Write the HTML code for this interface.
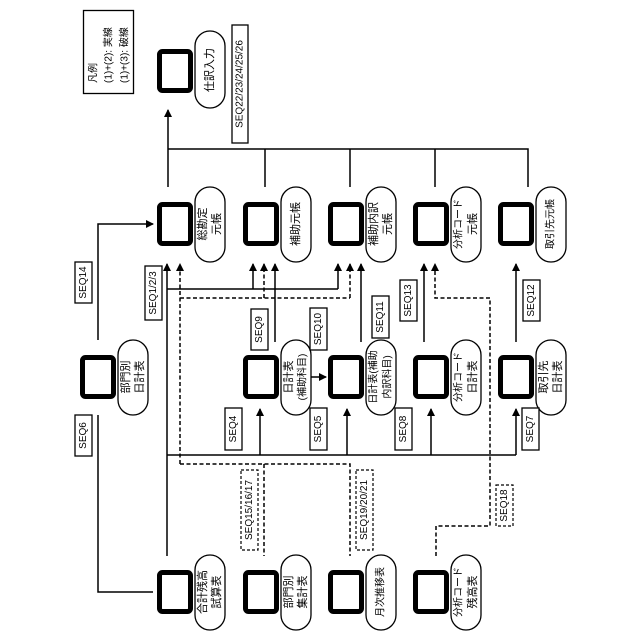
<!DOCTYPE html>
<html><head><meta charset="utf-8"><style>
html,body{margin:0;padding:0;background:#fff}
svg{display:block}
text{font-family:"Liberation Sans","Noto Sans CJK JP",sans-serif;fill:#000}
.n{font-size:11px}
.n .t{font-size:10px}
.s{font-size:10px}
</style></head><body>
<svg width="640" height="640" viewBox="0 0 640 640" xmlns="http://www.w3.org/2000/svg">
<defs>
<marker id="a" markerWidth="8" markerHeight="8" refX="7" refY="4" orient="auto" markerUnits="userSpaceOnUse"><path d="M0,0 L8,4 L0,8 z" fill="#000"/></marker>
</defs>
<g fill="none" stroke="#000" stroke-width="5">
<rect x="159.5" y="51.5" width="31" height="39" rx="3"/>
<rect x="159.5" y="204.5" width="31" height="39" rx="3"/>
<rect x="245.5" y="204.5" width="31" height="39" rx="3"/>
<rect x="330.5" y="204.5" width="31" height="39" rx="3"/>
<rect x="415.5" y="204.5" width="31" height="39" rx="3"/>
<rect x="500.5" y="204.5" width="31" height="39" rx="3"/>
<rect x="82.5" y="357.5" width="31" height="39" rx="3"/>
<rect x="245.5" y="357.5" width="31" height="39" rx="3"/>
<rect x="330.5" y="357.5" width="31" height="39" rx="3"/>
<rect x="415.5" y="357.5" width="31" height="39" rx="3"/>
<rect x="500.5" y="357.5" width="31" height="39" rx="3"/>
<rect x="159.5" y="572.5" width="31" height="39" rx="3"/>
<rect x="245.5" y="572.5" width="31" height="39" rx="3"/>
<rect x="330.5" y="572.5" width="31" height="39" rx="3"/>
<rect x="415.5" y="572.5" width="31" height="39" rx="3"/>
</g>
<g fill="#fff" stroke="#000" stroke-width="1.3">
<rect x="195" y="31" width="30" height="77" rx="15"/>
<rect x="195" y="187" width="30" height="75" rx="15"/>
<rect x="281" y="187" width="30" height="75" rx="15"/>
<rect x="366" y="187" width="30" height="75" rx="15"/>
<rect x="451" y="187" width="30" height="75" rx="15"/>
<rect x="536" y="187" width="30" height="75" rx="15"/>
<rect x="118" y="340" width="30" height="75" rx="15"/>
<rect x="281" y="340" width="30" height="75" rx="15"/>
<rect x="366" y="340" width="30" height="75" rx="15"/>
<rect x="451" y="340" width="30" height="75" rx="15"/>
<rect x="536" y="340" width="30" height="75" rx="15"/>
<rect x="195" y="555" width="30" height="75" rx="15"/>
<rect x="281" y="555" width="30" height="75" rx="15"/>
<rect x="366" y="555" width="30" height="75" rx="15"/>
<rect x="451" y="555" width="30" height="75" rx="15"/>
</g>
<g class="n" text-anchor="middle" dominant-baseline="central">
<text transform="translate(210,70) rotate(-90)">仕訳入力</text>
<text transform="translate(203,224) rotate(-90)">総勘定</text>
<text transform="translate(217,224) rotate(-90)">元帳</text>
<text transform="translate(296,224) rotate(-90)">補助元帳</text>
<text transform="translate(374,224) rotate(-90)">補助内訳</text>
<text transform="translate(388,224) rotate(-90)">元帳</text>
<text class="t" transform="translate(459,224) rotate(-90)">分析コード</text>
<text transform="translate(473,224) rotate(-90)">元帳</text>
<text class="t" transform="translate(551,224) rotate(-90)">取引先元帳</text>
<text transform="translate(126,377) rotate(-90)">部門別</text>
<text transform="translate(140,377) rotate(-90)">日計表</text>
<text transform="translate(289,377) rotate(-90)">日計表</text>
<text class="t" transform="translate(303,377) rotate(-90)">(補助科目)</text>
<text class="t" transform="translate(374,377) rotate(-90)">日計表(補助</text>
<text class="t" transform="translate(388,377) rotate(-90)">内訳科目)</text>
<text class="t" transform="translate(459,377) rotate(-90)">分析コード</text>
<text transform="translate(473,377) rotate(-90)">日計表</text>
<text transform="translate(544,377) rotate(-90)">取引先</text>
<text transform="translate(558,377) rotate(-90)">日計表</text>
<text transform="translate(203,592) rotate(-90)">合計残高</text>
<text transform="translate(217,592) rotate(-90)">試算表</text>
<text transform="translate(289,592) rotate(-90)">部門別</text>
<text transform="translate(303,592) rotate(-90)">集計表</text>
<text class="t" transform="translate(381,592) rotate(-90)">月次推移表</text>
<text class="t" transform="translate(459,592) rotate(-90)">分析コード</text>
<text transform="translate(473,592) rotate(-90)">残高表</text>
</g>
<!-- legend -->
<rect x="83.5" y="10.5" width="50" height="83" fill="none" stroke="#000" stroke-width="1.3"/>
<g class="s" text-anchor="start" dominant-baseline="central">
<text transform="translate(94,83) rotate(-90)">凡例</text>
<text transform="translate(109,83) rotate(-90)">(1)+(2): 実線</text>
<text transform="translate(125,83) rotate(-90)">(1)+(3): 破線</text>
</g>
<!-- solid lines -->
<g fill="none" stroke="#000" stroke-width="1.5">
<path d="M168,187 V110" marker-end="url(#a)"/>
<path d="M168,149 H528 V187 M265,149 V187 M350,149 V187 M435,149 V187"/>
<path d="M98,340 V224 H153" marker-end="url(#a)"/>
<path d="M153,592 H98 V415"/>
<path d="M167,556 V264" marker-end="url(#a)"/>
<path d="M167,289 H338 M253,289 V264" marker-end="url(#a)"/>
<path d="M338,289 V264" marker-end="url(#a)"/>
<path d="M167,455 H516"/>
<path d="M260,455 V409" marker-end="url(#a)"/>
<path d="M347,455 V409" marker-end="url(#a)"/>
<path d="M431,455 V409" marker-end="url(#a)"/>
<path d="M516,455 V409" marker-end="url(#a)"/>
<path d="M275,342 V264" marker-end="url(#a)"/>
<path d="M361,342 V264" marker-end="url(#a)"/>
<path d="M424,342 V264" marker-end="url(#a)"/>
<path d="M516,342 V264" marker-end="url(#a)"/>
<path d="M311,377 H326" marker-end="url(#a)"/>
</g>
<!-- dashed lines -->
<g fill="none" stroke="#000" stroke-width="1.5" stroke-dasharray="4,2.5">
<path d="M180,464 V264" marker-end="url(#a)"/>
<path d="M180,298 H350 M264,298 V264" marker-end="url(#a)"/>
<path d="M350,298 V264" marker-end="url(#a)"/>
<path d="M180,464 H350 V556 M264,464 V556"/>
<path d="M436,556 V526 H490 V298 H435 V264" marker-end="url(#a)"/>
</g>
<!-- SEQ labels -->
<g fill="#fff" stroke="#000" stroke-width="1.3">
<rect x="232" y="25" width="16" height="118"/>
<rect x="75" y="262" width="17" height="41"/>
<rect x="145" y="266" width="17" height="54"/>
<rect x="75" y="415" width="17" height="41"/>
<rect x="225" y="408" width="17" height="42"/>
<rect x="310" y="408" width="17" height="42"/>
<rect x="395" y="408" width="17" height="42"/>
<rect x="522" y="408" width="17" height="42"/>
<rect x="251" y="309" width="17" height="41"/>
<rect x="310" y="308" width="17" height="42"/>
<rect x="372" y="296" width="17" height="42"/>
<rect x="400" y="280" width="17" height="41"/>
<rect x="523" y="280" width="17" height="41"/>
</g>
<g fill="#fff" stroke="#000" stroke-width="1.2" stroke-dasharray="3,2">
<rect x="241" y="470" width="17" height="80"/>
<rect x="356" y="470" width="17" height="80"/>
<rect x="496" y="485" width="17" height="41"/>
</g>
<g class="s" text-anchor="middle" dominant-baseline="central">
<text transform="translate(240,84) rotate(-90)">SEQ22/23/24/25/26</text>
<text transform="translate(83.5,282.5) rotate(-90)">SEQ14</text>
<text transform="translate(153.5,293) rotate(-90)">SEQ1/2/3</text>
<text transform="translate(83.5,435.5) rotate(-90)">SEQ6</text>
<text transform="translate(233.5,429) rotate(-90)">SEQ4</text>
<text transform="translate(318.5,429) rotate(-90)">SEQ5</text>
<text transform="translate(403.5,429) rotate(-90)">SEQ8</text>
<text transform="translate(530.5,429) rotate(-90)">SEQ7</text>
<text transform="translate(259.5,329.5) rotate(-90)">SEQ9</text>
<text transform="translate(318.5,329) rotate(-90)">SEQ10</text>
<text transform="translate(380.5,317) rotate(-90)">SEQ11</text>
<text transform="translate(408.5,300.5) rotate(-90)">SEQ13</text>
<text transform="translate(531.5,300.5) rotate(-90)">SEQ12</text>
<text transform="translate(249.5,510) rotate(-90)">SEQ15/16/17</text>
<text transform="translate(364.5,510) rotate(-90)">SEQ19/20/21</text>
<text transform="translate(504.5,505.5) rotate(-90)">SEQ18</text>
</g>
</svg>
</body></html>
